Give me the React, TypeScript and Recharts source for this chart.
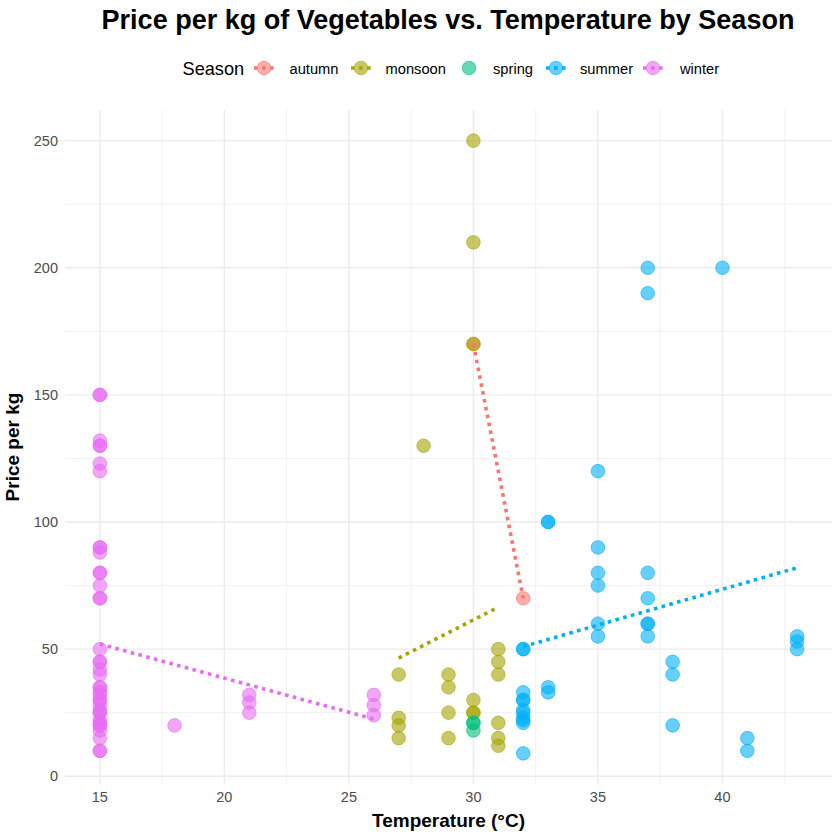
import React from 'react';
import { ScatterChart, Scatter, XAxis, YAxis, CartesianGrid } from 'recharts';

// ---------- data ----------
const seasonNames = ['autumn', 'monsoon', 'spring', 'summer', 'winter'];
const seasonColors: Record<string, string> = {
  autumn: '#F8766D',
  monsoon: '#A3A500',
  spring: '#00BF7D',
  summer: '#00B0F6',
  winter: '#E76BF3',
};

const autumnTemp = [30, 32];
const autumnPrice = [170, 70];

const monsoonTemp = [27, 27, 27, 27, 28, 29, 29, 29, 29, 30, 30, 30, 30, 30, 30, 31, 31, 31, 31, 31, 31];
const monsoonPrice = [40, 23, 20, 15, 130, 40, 35, 25, 15, 250, 210, 170, 30, 25, 25, 50, 45, 40, 21, 15, 12];

const springTemp = [30, 30, 30];
const springPrice = [21, 21, 18];

const summerTemp = [
  32, 32, 32, 32, 32, 32, 32, 32, 32, 32, 32,
  33, 33, 33, 33,
  35, 35, 35, 35, 35, 35,
  37, 37, 37, 37, 37, 37, 37,
  38, 38, 38,
  40,
  41, 41,
  43, 43, 43,
];
const summerPrice = [
  50, 50, 33, 30, 30, 26, 25, 23, 22, 21, 9,
  100, 100, 35, 33,
  120, 90, 80, 75, 60, 55,
  200, 190, 80, 70, 60, 60, 55,
  45, 40, 20,
  200,
  15, 10,
  55, 53, 50,
];

const winterTemp = [
  15, 15, 15, 15, 15, 15, 15, 15, 15, 15, 15, 15, 15, 15, 15, 15, 15, 15, 15,
  15, 15, 15, 15, 15, 15, 15, 15, 15, 15, 15, 15, 15, 15, 15, 15, 15, 15, 15,
  18, 21, 21, 21, 26, 26, 26,
];
const winterPrice = [
  150, 150, 132, 130, 130, 123, 120, 90, 90, 88, 80, 80, 75, 70, 70, 50, 45, 45, 42,
  40, 35, 35, 33, 32, 30, 30, 28, 26, 25, 25, 22, 21, 20, 20, 18, 15, 10, 10,
  20, 32, 29, 25, 32, 28, 24,
];

// fitted trend lines: [temp, price] at both ends
const autumnTrend = [[30, 170], [32, 70]];
const monsoonTrend = [[27, 46.5], [31, 66.5]];
const summerTrend = [[32, 51], [43, 82]];
const winterTrend = [[15, 52], [26, 22.5]];

const xMajorTicks = [15, 20, 25, 30, 35, 40];
const xMinorTicks = [17.5, 22.5, 27.5, 32.5, 37.5, 42.5];
const yMajorTicks = [0, 50, 100, 150, 200, 250];
const yMinorTicks = [25, 75, 125, 175, 225];

const xDomain = [13.6, 44.4];
const yDomain = [-3.05, 262.05];

// ---------- build ----------
const toPoints = (t: number[], p: number[]) => t.map((v, i) => ({ temp: v, price: p[i] }));
const toLine = (arr: number[][]) => arr.map(([t, p]) => ({ temp: t, price: p }));

const pointSeries = [
  { name: 'autumn', data: toPoints(autumnTemp, autumnPrice) },
  { name: 'monsoon', data: toPoints(monsoonTemp, monsoonPrice) },
  { name: 'spring', data: toPoints(springTemp, springPrice) },
  { name: 'summer', data: toPoints(summerTemp, summerPrice) },
  { name: 'winter', data: toPoints(winterTemp, winterPrice) },
];
const lineSeries = [
  { name: 'autumn', data: toLine(autumnTrend) },
  { name: 'monsoon', data: toLine(monsoonTrend) },
  { name: 'summer', data: toLine(summerTrend) },
  { name: 'winter', data: toLine(winterTrend) },
];
const seasonsWithLine = ['autumn', 'monsoon', 'summer', 'winter'];

const FONT = '"Liberation Sans", Arial, Helvetica, sans-serif';
const DASH = '3.6 4.4';
const LINE_W = 3.6;

const makeDot = (color: string) => (props: any) => {
  if (props.cx == null || props.cy == null) return <g />;
  return (
    <circle
      cx={props.cx}
      cy={props.cy}
      r={6.8}
      fill={color}
      fillOpacity={0.6}
      stroke={color}
      strokeOpacity={0.6}
      strokeWidth={1}
    />
  );
};
const noDot = () => <g />;

const legendKeyX = [264, 361, 469, 556, 653];
const legendTextX = [289.5, 385.5, 493, 580, 680];

export default function App() {
  return (
    <div style={{ position: 'absolute', left: 0, top: 0, width: 840, height: 840, background: '#fff' }}>
      <ScatterChart width={840} height={840} margin={{ top: 110, right: 8, bottom: 0, left: 0 }}>
        <CartesianGrid
          stroke="#EBEBEB"
          strokeWidth={0.7}
          verticalValues={xMinorTicks}
          horizontalValues={yMinorTicks}
          syncWithTicks
        />
        <CartesianGrid stroke="#EBEBEB" strokeWidth={1.4} syncWithTicks />
        <XAxis
          type="number"
          dataKey="temp"
          domain={xDomain}
          ticks={xMajorTicks}
          allowDataOverflow
          height={56}
          axisLine={false}
          tickLine={false}
          tickSize={0}
          tickMargin={8}
          tick={{ fill: '#4D4D4D', fontSize: 14.5, fontFamily: FONT }}
        />
        <YAxis
          type="number"
          dataKey="price"
          domain={yDomain}
          ticks={yMajorTicks}
          allowDataOverflow
          width={65}
          axisLine={false}
          tickLine={false}
          tickSize={0}
          tickMargin={7}
          tick={{ fill: '#4D4D4D', fontSize: 14.5, fontFamily: FONT }}
        />
        {pointSeries.map((s) => (
          <Scatter
            key={'p-' + s.name}
            name={s.name}
            data={s.data}
            fill={seasonColors[s.name]}
            shape={makeDot(seasonColors[s.name])}
            isAnimationActive={false}
          />
        ))}
        {lineSeries.map((s) => (
          <Scatter
            key={'l-' + s.name}
            name={s.name + ' trend'}
            data={s.data}
            fill={seasonColors[s.name]}
            shape={noDot}
            line={{ stroke: seasonColors[s.name], strokeWidth: LINE_W, strokeDasharray: DASH }}
            isAnimationActive={false}
          />
        ))}
      </ScatterChart>
      <svg
        width={840}
        height={840}
        style={{ position: 'absolute', left: 0, top: 0, pointerEvents: 'none' }}
      >
        <text x={448} y={28.5} textAnchor="middle" fontFamily={FONT} fontWeight="bold" fontSize={27} fill="#000">
          Price per kg of Vegetables vs. Temperature by Season
        </text>
        <text x={182.5} y={75} fontFamily={FONT} fontSize={18.2} fill="#000">
          Season
        </text>
        {seasonNames.map((name, i) => {
          const c = seasonColors[name];
          const kx = legendKeyX[i];
          return (
            <g key={name}>
              <circle cx={kx} cy={68} r={6.8} fill={c} fillOpacity={0.6} stroke={c} strokeOpacity={0.6} strokeWidth={1} />
              {seasonsWithLine.includes(name) && (
                <line x1={kx - 10} y1={68} x2={kx + 10} y2={68} stroke={c} strokeWidth={LINE_W} strokeDasharray={DASH} />
              )}
              <text x={legendTextX[i]} y={73.5} fontFamily={FONT} fontSize={14.7} fill="#000">
                {name}
              </text>
            </g>
          );
        })}
        <text x={448.5} y={826.5} textAnchor="middle" fontFamily={FONT} fontWeight="bold" fontSize={19} fill="#000">
          Temperature (°C)
        </text>
        <g transform="translate(19 447) rotate(-90)">
          <text x={0} y={0} textAnchor="middle" fontFamily={FONT} fontWeight="bold" fontSize={19} fill="#000">
            Price per kg
          </text>
        </g>
      </svg>
    </div>
  );
}
